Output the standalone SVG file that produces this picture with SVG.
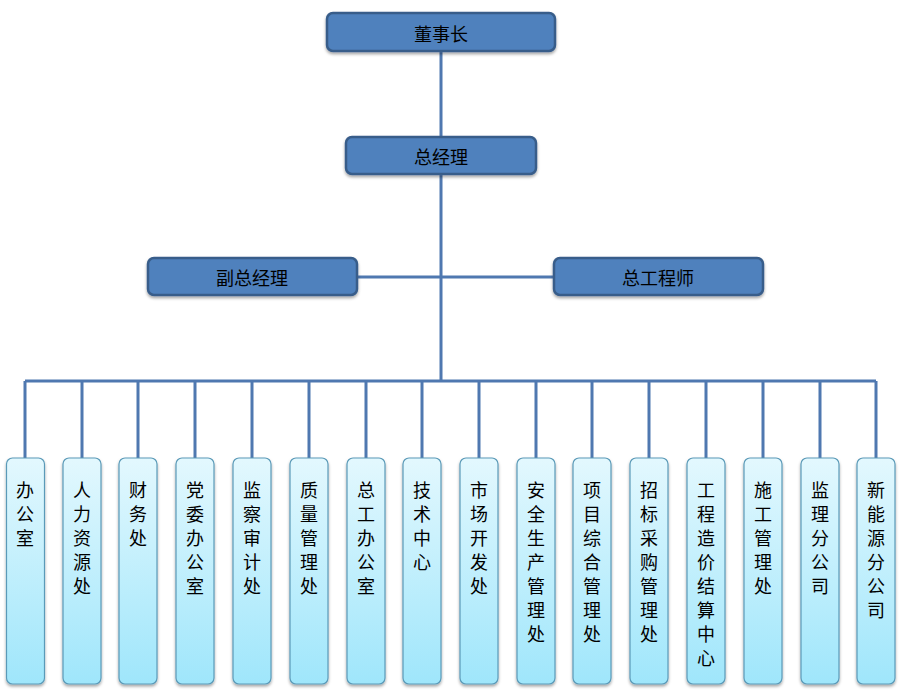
<svg xmlns="http://www.w3.org/2000/svg" width="903" height="690" viewBox="0 0 903 690">
<defs>
<linearGradient id="lg" x1="0" y1="0" x2="0" y2="1">
<stop offset="0" stop-color="#e3f8fe"/>
<stop offset="1" stop-color="#9fe6fb"/>
</linearGradient>
<filter id="sh" x="-20%" y="-10%" width="140%" height="130%">
<feDropShadow dx="0" dy="2" stdDeviation="1.5" flood-color="#000" flood-opacity="0.35"/>
</filter>
</defs>
<style>
.top rect{fill:#4f81bd;stroke:#385d8a;stroke-width:2.5;filter:url(#sh)}
.top text{font-family:"Noto Sans CJK SC","Noto Sans",sans-serif;font-size:18px;fill:#000;text-anchor:middle;dominant-baseline:central}
.dep rect{fill:url(#lg);stroke:#5a9ab8;stroke-width:1.2;filter:url(#sh)}
.dep text{font-family:"Noto Sans CJK SC","Noto Sans",sans-serif;font-size:18px;fill:#000;text-anchor:middle;dominant-baseline:central}
.con{fill:none;stroke:#4f78b0;stroke-width:3}
</style>
<g id="connectors" class="con">
<path d="M441 51V381"/>
<path d="M357 277H553"/>
<path d="M25 381H876"/>
<path d="M25 381V458M82 381V458M138 381V458M195 381V458M252 381V458M309 381V458M366 381V458M422 381V458M479 381V458M536 381V458M592 381V458M649 381V458M706 381V458M763 381V458M820 381V458M876 381V458"/>
</g>
<g id="n-dongshizhang" class="top"><rect x="327" y="13" width="228" height="38" rx="6"/><text x="441" y="33">董事长</text></g>
<g id="n-zongjingli" class="top"><rect x="346" y="137" width="190" height="37" rx="6"/><text x="441" y="156">总经理</text></g>
<g id="n-fuzongjingli" class="top"><rect x="148" y="258" width="209" height="37" rx="6"/><text x="252" y="277">副总经理</text></g>
<g id="n-zonggongchengshi" class="top"><rect x="554" y="258" width="209" height="37" rx="6"/><text x="658" y="277">总工程师</text></g>
<g id="d1" class="dep"><rect x="6.5" y="458" width="38" height="226" rx="6"/><text x="25" y="489">办</text><text x="25" y="513">公</text><text x="25" y="537">室</text></g>
<g id="d2" class="dep"><rect x="63" y="458" width="38" height="226" rx="6"/><text x="82" y="489">人</text><text x="82" y="513">力</text><text x="82" y="537">资</text><text x="82" y="561">源</text><text x="82" y="585">处</text></g>
<g id="d3" class="dep"><rect x="119" y="458" width="38" height="226" rx="6"/><text x="138" y="489">财</text><text x="138" y="513">务</text><text x="138" y="537">处</text></g>
<g id="d4" class="dep"><rect x="176" y="458" width="38" height="226" rx="6"/><text x="195" y="489">党</text><text x="195" y="513">委</text><text x="195" y="537">办</text><text x="195" y="561">公</text><text x="195" y="585">室</text></g>
<g id="d5" class="dep"><rect x="233" y="458" width="38" height="226" rx="6"/><text x="252" y="489">监</text><text x="252" y="513">察</text><text x="252" y="537">审</text><text x="252" y="561">计</text><text x="252" y="585">处</text></g>
<g id="d6" class="dep"><rect x="290" y="458" width="38" height="226" rx="6"/><text x="309" y="489">质</text><text x="309" y="513">量</text><text x="309" y="537">管</text><text x="309" y="561">理</text><text x="309" y="585">处</text></g>
<g id="d7" class="dep"><rect x="347" y="458" width="38" height="226" rx="6"/><text x="366" y="489">总</text><text x="366" y="513">工</text><text x="366" y="537">办</text><text x="366" y="561">公</text><text x="366" y="585">室</text></g>
<g id="d8" class="dep"><rect x="403" y="458" width="38" height="226" rx="6"/><text x="422" y="489">技</text><text x="422" y="513">术</text><text x="422" y="537">中</text><text x="422" y="561">心</text></g>
<g id="d9" class="dep"><rect x="460" y="458" width="38" height="226" rx="6"/><text x="479" y="489">市</text><text x="479" y="513">场</text><text x="479" y="537">开</text><text x="479" y="561">发</text><text x="479" y="585">处</text></g>
<g id="d10" class="dep"><rect x="517" y="458" width="38" height="226" rx="6"/><text x="536" y="489">安</text><text x="536" y="513">全</text><text x="536" y="537">生</text><text x="536" y="561">产</text><text x="536" y="585">管</text><text x="536" y="609">理</text><text x="536" y="633">处</text></g>
<g id="d11" class="dep"><rect x="573" y="458" width="38" height="226" rx="6"/><text x="592" y="489">项</text><text x="592" y="513">目</text><text x="592" y="537">综</text><text x="592" y="561">合</text><text x="592" y="585">管</text><text x="592" y="609">理</text><text x="592" y="633">处</text></g>
<g id="d12" class="dep"><rect x="630" y="458" width="38" height="226" rx="6"/><text x="649" y="489">招</text><text x="649" y="513">标</text><text x="649" y="537">采</text><text x="649" y="561">购</text><text x="649" y="585">管</text><text x="649" y="609">理</text><text x="649" y="633">处</text></g>
<g id="d13" class="dep"><rect x="687" y="458" width="38" height="226" rx="6"/><text x="706" y="489">工</text><text x="706" y="513">程</text><text x="706" y="537">造</text><text x="706" y="561">价</text><text x="706" y="585">结</text><text x="706" y="609">算</text><text x="706" y="633">中</text><text x="706" y="657">心</text></g>
<g id="d14" class="dep"><rect x="744" y="458" width="38" height="226" rx="6"/><text x="763" y="489">施</text><text x="763" y="513">工</text><text x="763" y="537">管</text><text x="763" y="561">理</text><text x="763" y="585">处</text></g>
<g id="d15" class="dep"><rect x="801" y="458" width="38" height="226" rx="6"/><text x="820" y="489">监</text><text x="820" y="513">理</text><text x="820" y="537">分</text><text x="820" y="561">公</text><text x="820" y="585">司</text></g>
<g id="d16" class="dep"><rect x="857" y="458" width="38" height="226" rx="6"/><text x="876" y="489">新</text><text x="876" y="513">能</text><text x="876" y="537">源</text><text x="876" y="561">分</text><text x="876" y="585">公</text><text x="876" y="609">司</text></g>
</svg>
